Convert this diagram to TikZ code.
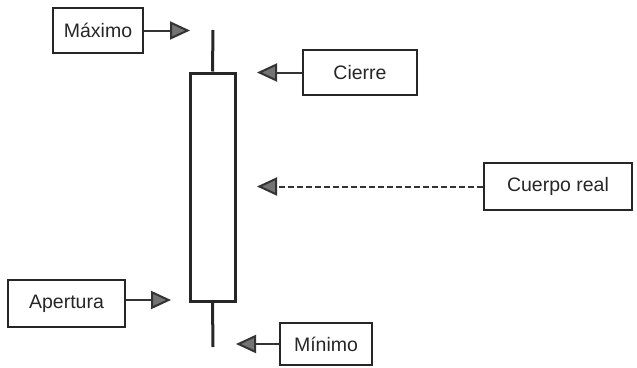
\documentclass[tikz,border=0pt]{standalone}
\usepackage{fontspec}
\setmainfont{Liberation Sans}
\usetikzlibrary{arrows.meta}
\begin{document}
\begin{tikzpicture}[x=1pt,y=-1pt,
  lbl/.style={draw=black!85,line width=1.6pt,inner sep=0pt,font=\fontsize{19.5}{22}\selectfont,text=black!85},
  ptr/.style={draw=black!80,line width=2pt,-{Triangle[length=20pt,width=18pt,fill=black!55]}},
  candle/.style={draw=black!85,line width=3pt}]
\useasboundingbox (0,0) rectangle (637,367);
\node[lbl,minimum width=90pt,minimum height=45pt] (max) at (98,30.5) {Máximo};
\node[lbl,minimum width=114pt,minimum height=45pt] (cie) at (360,72.5) {Cierre};
\node[lbl,minimum width=148pt,minimum height=47pt] (cue) at (558,186.5) {Cuerpo real};
\node[lbl,minimum width=117pt,minimum height=47pt] (ape) at (66.5,303.5) {Apertura};
\node[lbl,minimum width=92pt,minimum height=42pt] (min) at (326,344) {Mínimo};
\node[candle,minimum width=45pt,minimum height=228pt,inner sep=0pt] (body) at (212.5,187) {};
\coordinate (wt) at (213,30);
\coordinate (wb) at (213,347);
\draw[candle] (wt) -- (body.north);
\draw[candle] (body.south) -- (wb);
\coordinate (tmax) at (190,30.5);
\coordinate (tcie) at (257,72.5);
\coordinate (tcue) at (257,186.5);
\coordinate (tape) at (171,300);
\coordinate (tmin) at (236,344);
\draw[ptr] (max.east) -- (tmax);
\draw[ptr] (cie.west) -- (tcie);
\draw[ptr,dash pattern=on 6pt off 3pt] (cue.west) -- (tcue);
\draw[ptr] (ape.east |- tape) -- (tape);
\draw[ptr] (min.west) -- (tmin);
\end{tikzpicture}
\end{document}
